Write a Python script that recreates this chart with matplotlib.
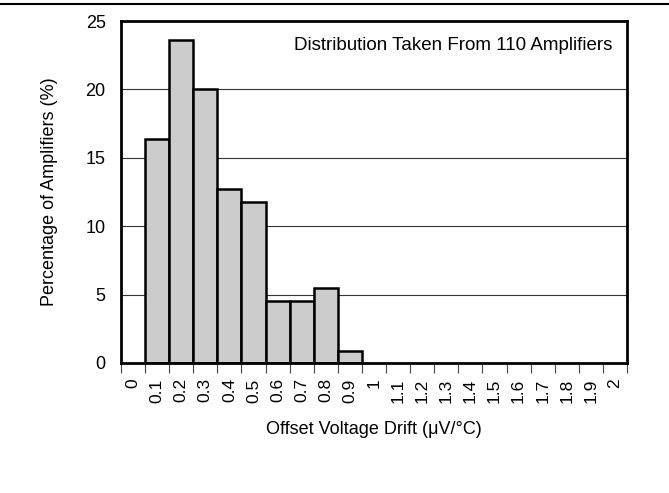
import numpy as np
import matplotlib
matplotlib.use("Agg")
import matplotlib.pyplot as plt

plt.rcParams['font.family'] = ['Liberation Sans', 'DejaVu Sans']

# histogram bins (bin start values), 0 .. 2.0 step 0.1
bin_labels = ['0', '0.1', '0.2', '0.3', '0.4', '0.5', '0.6', '0.7', '0.8', '0.9', '1',
              '1.1', '1.2', '1.3', '1.4', '1.5', '1.6', '1.7', '1.8', '1.9', '2']
# percentage of amplifiers per bin (110 units)
percent = [0, 16.4, 23.6, 20.0, 12.7, 11.8, 4.5, 4.5, 5.5, 0.9, 0,
           0, 0, 0, 0, 0, 0, 0, 0, 0, 0]
y_ticks = [0, 5, 10, 15, 20, 25]

fig = plt.figure(figsize=(6.69, 4.93), dpi=100)
ax = fig.add_axes([0.1809, 0.2637, 0.7563, 0.6937])

x = np.arange(len(bin_labels))
vals = np.array(percent)
nz = vals > 0
ax.bar(x[nz], vals[nz], width=1.0, color='#cccccc', edgecolor='black',
       linewidth=1.8, zorder=3)

ax.set_xlim(-0.5, len(bin_labels) - 0.5)
ax.set_ylim(0, 25)

# ticks on bin edges, labels at bin centres
ax.set_xticks(np.arange(-0.5, len(bin_labels)), minor=False)
ax.set_xticklabels([])
ax.set_xticks(x, minor=True)
ax.set_xticklabels(bin_labels, minor=True, rotation=90, fontsize=12.5)
ax.tick_params(axis='x', which='major', direction='out', length=7, width=0.8,
               color='#444444')
ax.tick_params(axis='x', which='minor', length=0, pad=11)

ax.set_yticks(y_ticks)
ax.set_yticklabels([str(v) for v in y_ticks], fontsize=13)
ax.tick_params(axis='y', length=0, pad=11)

for v in y_ticks[1:-1]:
    ax.axhline(v, color='#333333', linewidth=0.8, zorder=1)

for s in ax.spines.values():
    s.set_linewidth(2)
    s.set_zorder(4)

ax.set_xlabel('Offset Voltage Drift (\u03bcV/\u00b0C)', fontsize=13, labelpad=13)
ax.set_ylabel('Percentage of Amplifiers (%)', fontsize=13, labelpad=20)

ax.text(0.972, 0.952, 'Distribution Taken From 110 Amplifiers', transform=ax.transAxes,
        ha='right', va='top', fontsize=13.5)

# rule across the top of the figure
fig.add_artist(plt.Line2D([0, 1], [0.991, 0.991], transform=fig.transFigure,
                          color='black', linewidth=1.5))

fig.savefig('out.png', dpi=100)
